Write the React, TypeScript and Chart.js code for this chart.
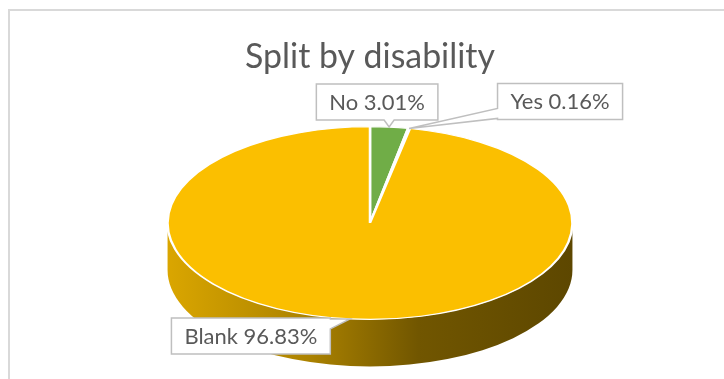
import React, { useEffect, useRef } from "react";
import { Chart, registerables } from "chart.js";

Chart.register(...registerables);

// ---- data ----
const categories = ["No", "Yes", "Blank"];
const percentages = [3.01, 0.16, 96.83];
const sliceColors = ["#70AD47", "#A5A5A5", "#FBBF00"];
const titleText = "Split by disability";

// ---- style / layout ----
const FONT = "Lato, 'Open Sans', sans-serif";
const TEXT_COLOR = "#595959";
const ASPECT = 2.1; // horizontal stretch of the pie (tilt)
const DEPTH = 47; // thickness of the 3D side
const labelOffsets = [
  [-12, -25],
  [151, -27],
  [-99, 17],
];

function fitSize(text: string, target: number) {
  const c = document.createElement("canvas").getContext("2d")!;
  c.font = `100px ${FONT}`;
  const w = c.measureText(text).width || 500;
  return (100 * target) / w;
}

function shade(hex: string, f: number) {
  const n = parseInt(hex.slice(1), 16);
  const r = Math.round(((n >> 16) & 255) * f);
  const g = Math.round(((n >> 8) & 255) * f);
  const b = Math.round((n & 255) * f);
  return `rgb(${r},${g},${b})`;
}

const clamp = (v: number, a: number, b: number) => Math.max(a, Math.min(b, v));

function drawCallout(
  ctx: CanvasRenderingContext2D,
  L: number,
  T: number,
  w: number,
  h: number,
  ax: number,
  ay: number
) {
  const R = L + w;
  const B = T + h;
  const hw = 5;
  ctx.beginPath();
  ctx.moveTo(L, T);
  ctx.lineTo(R, T);
  if (ax > R) {
    const yc = clamp(ay, T + hw + 1, B - hw - 1);
    ctx.lineTo(R, yc - hw);
    ctx.lineTo(ax, ay);
    ctx.lineTo(R, yc + hw);
  }
  ctx.lineTo(R, B);
  if (ay > B && ax >= L && ax <= R) {
    const xc = clamp(ax, L + hw + 1, R - hw - 1);
    ctx.lineTo(xc + hw, B);
    ctx.lineTo(ax, ay);
    ctx.lineTo(xc - hw, B);
  }
  ctx.lineTo(L, B);
  if (ax < L) {
    const yc = clamp(ay, T + hw + 1, B - hw - 1);
    ctx.lineTo(L, yc + hw);
    ctx.lineTo(ax, ay);
    ctx.lineTo(L, yc - hw);
  }
  ctx.closePath();
  ctx.fillStyle = "#FFFFFF";
  ctx.fill();
  ctx.strokeStyle = "#BFBFBF";
  ctx.lineWidth = 1.5;
  ctx.stroke();
}

export default function App() {
  const ref = useRef<HTMLCanvasElement>(null);

  useEffect(() => {
    document.body.style.margin = "0";
    const titleSize = fitSize(titleText, 250);
    const labelSize = fitSize("Blank 96.83%", 133);

    const pie3d = {
      id: "pie3d",
      beforeDatasetsDraw(chart: any) {
        const ctx: CanvasRenderingContext2D = chart.ctx;
        const arcs = chart.getDatasetMeta(0).data;
        if (!arcs.length) return;
        const { x: cx, y: cy, outerRadius: r } = arcs[0].getProps(
          ["x", "y", "outerRadius"],
          true
        );
        const rx = r * ASPECT;
        const ry = r;
        arcs.forEach((arc: any, i: number) => {
          const { startAngle, endAngle } = arc.getProps(
            ["startAngle", "endAngle"],
            true
          );
          const col = sliceColors[i];
          for (const base of [-2 * Math.PI, 0, 2 * Math.PI]) {
            const a0 = Math.max(startAngle, base);
            const a1 = Math.min(endAngle, base + Math.PI);
            if (a1 <= a0) continue;
            const g = ctx.createLinearGradient(cx - rx, 0, cx + rx, 0);
            g.addColorStop(0, shade(col, 0.87));
            g.addColorStop(0.35, shade(col, 0.68));
            g.addColorStop(0.62, shade(col, 0.45));
            g.addColorStop(1, shade(col, 0.37));
            ctx.beginPath();
            ctx.ellipse(cx, cy, rx, ry, 0, a0, a1, false);
            ctx.ellipse(cx, cy + DEPTH, rx, ry, 0, a1, a0, true);
            ctx.closePath();
            ctx.fillStyle = g;
            ctx.fill();
          }
        });
        ctx.save();
        ctx.translate(cx, cy);
        ctx.scale(ASPECT, 1);
        ctx.translate(-cx, -cy);
      },
      afterDatasetsDraw(chart: any) {
        const ctx: CanvasRenderingContext2D = chart.ctx;
        const arcs = chart.getDatasetMeta(0).data;
        if (!arcs.length) return;
        ctx.restore();
        const { x: cx, y: cy, outerRadius: r } = arcs[0].getProps(
          ["x", "y", "outerRadius"],
          true
        );
        const rx = r * ASPECT;
        const ry = r;
        ctx.save();
        ctx.font = `${labelSize}px ${FONT}`;
        arcs.forEach((arc: any, i: number) => {
          const { startAngle, endAngle } = arc.getProps(
            ["startAngle", "endAngle"],
            true
          );
          const m = (startAngle + endAngle) / 2;
          const ax = cx + rx * Math.cos(m);
          const ay = cy + ry * Math.sin(m);
          const text = `${categories[i]} ${percentages[i].toFixed(2)}%`;
          const tw = ctx.measureText(text).width;
          const bw = tw + 26;
          const bh = 36;
          const bcx = ax + labelOffsets[i][0];
          const bcy = ay + labelOffsets[i][1];
          drawCallout(ctx, bcx - bw / 2, bcy - bh / 2, bw, bh, ax, ay);
          ctx.fillStyle = TEXT_COLOR;
          ctx.textAlign = "center";
          ctx.textBaseline = "middle";
          ctx.fillText(text, bcx, bcy + 1);
        });
        ctx.restore();
      },
    };

    const chart = new Chart(ref.current!, {
      type: "pie",
      data: {
        labels: categories,
        datasets: [
          {
            data: percentages,
            backgroundColor: sliceColors,
            borderColor: "#FFFFFF",
            borderWidth: 1.2,
            clip: false,
          } as any,
        ],
      },
      options: {
        animation: false,
        responsive: false,
        events: [],
        layout: { padding: { left: 100, right: 84, top: 0, bottom: 59 } },
        plugins: {
          legend: { display: false },
          tooltip: { enabled: false },
          title: {
            display: true,
            text: titleText,
            color: TEXT_COLOR,
            font: { family: FONT, size: titleSize, weight: "normal", lineHeight: 1.2 },
            padding: { top: 37, bottom: 126 - 37 - titleSize * 1.2 },
          },
        },
      },
      plugins: [pie3d],
    });
    return () => chart.destroy();
  }, []);

  return (
    <div
      style={{
        position: "fixed",
        left: 0,
        top: 0,
        width: 724,
        height: 379,
        overflow: "hidden",
        background: "#FFFFFF",
      }}
    >
      <div
        style={{
          position: "absolute",
          left: 8,
          top: 9,
          width: 800,
          height: 400,
          borderLeft: "2px solid #D9D9D9",
          borderTop: "2px solid #D9D9D9",
        }}
      />
      <canvas
        ref={ref}
        width={724}
        height={379}
        style={{ position: "absolute", left: 0, top: 0 }}
      />
    </div>
  );
}
